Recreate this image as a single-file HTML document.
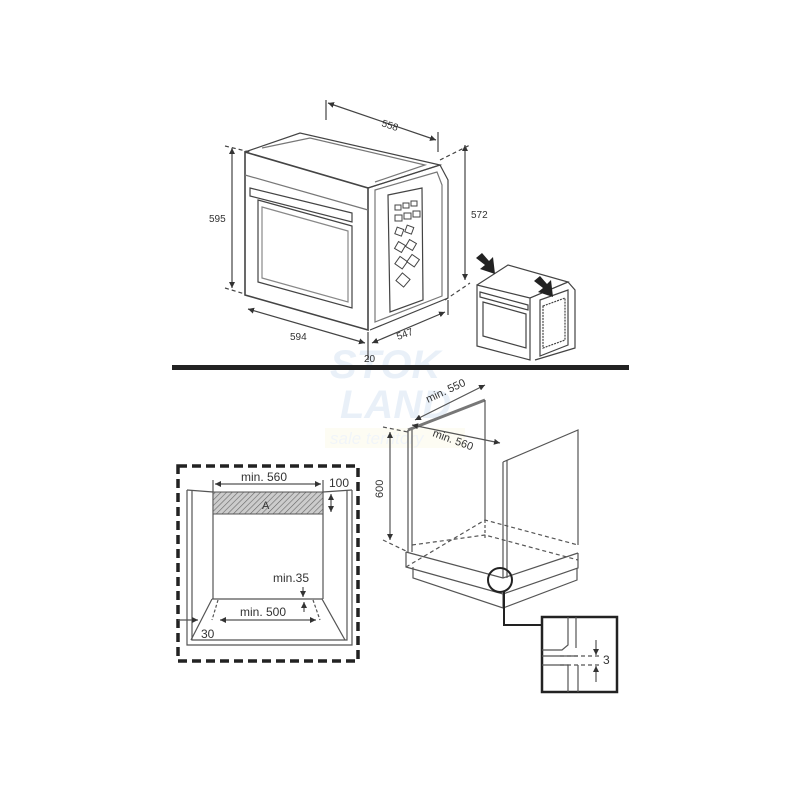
<!DOCTYPE html>
<html><head><meta charset="utf-8"><style>
html,body{margin:0;padding:0;background:#fff;}
svg{display:block}
text{font-family:"Liberation Sans",sans-serif;fill:#333;}
</style></head><body>
<svg width="800" height="800" viewBox="0 0 800 800" xmlns="http://www.w3.org/2000/svg">
<defs>
<pattern id="h" width="4" height="4" patternUnits="userSpaceOnUse" patternTransform="rotate(45)">
<rect width="4" height="4" fill="#ccc"/><line x1="0" y1="0" x2="0" y2="4" stroke="#666" stroke-width="1.2"/></pattern>
<marker id="a" viewBox="0 0 10 10" refX="10" refY="5" markerWidth="5" markerHeight="5" orient="auto-start-reverse"><path d="M0,0L10,5L0,10z" fill="#333"/></marker>
</defs>
<rect width="800" height="800" fill="#fff"/>
<!-- watermark -->
<g opacity="0.25">
<text x="330" y="378" font-size="40" font-weight="bold" font-style="italic" style="fill:#a9c6e6">STOK</text>
<text x="340" y="418" font-size="40" font-weight="bold" font-style="italic" style="fill:#a9c6e6">LAND</text>
<rect x="325" y="428" width="140" height="20" style="fill:#fbf6d0"/>
<text x="330" y="444" font-size="17" font-style="italic" style="fill:#c9d9ea">sale territory</text>
</g>
<g fill="none" stroke="#444" stroke-width="1.2">
<!-- Main oven -->
<path d="M245,152 L368,188 L368,330 L245,295 Z" stroke-width="1.6"/>
<path d="M245,152 L300,133 L440,165 L368,188"/>
<path d="M262,148 L310,138 L425,165 L375,182" stroke="#777"/>
<path d="M368,188 L440,165 L448,180 L448,298 L370,330"/>
<path d="M375,190 L437,172 L442,185 L442,296 L375,322 Z" stroke="#777"/>
<path d="M388,195 L422,188 L423,300 L390,312 Z"/>
<path d="M245,175 L368,210" stroke="#777"/>
<path d="M250,188 L352,213 L352,222 L250,196 Z"/>
<path d="M258,200 L352,226 L352,308 L258,282 Z"/>
<path d="M262,207 L348,231 L348,302 L262,278 Z" stroke="#888"/>
<g stroke-width="1">
<rect x="395" y="205" width="6" height="5"/><rect x="403" y="203" width="6" height="5"/><rect x="411" y="201" width="6" height="5"/>
<rect x="395" y="215" width="7" height="6"/><rect x="404" y="213" width="7" height="6"/><rect x="413" y="211" width="7" height="6"/>
<rect x="396" y="228" width="7" height="7" transform="rotate(20 399 231)"/><rect x="406" y="226" width="7" height="7" transform="rotate(20 409 229)"/>
<rect x="396" y="243" width="8" height="8" transform="rotate(30 400 247)"/><rect x="407" y="241" width="8" height="8" transform="rotate(30 411 245)"/>
<rect x="397" y="258" width="9" height="9" transform="rotate(35 401 262)"/><rect x="409" y="256" width="9" height="9" transform="rotate(35 413 260)"/>
<rect x="398" y="275" width="10" height="10" transform="rotate(40 403 280)"/>
</g>
<!-- dims -->
<line x1="232" y1="148" x2="232" y2="288" marker-start="url(#a)" marker-end="url(#a)"/>
<line x1="225" y1="146" x2="250" y2="152" stroke-dasharray="4 3"/>
<line x1="225" y1="288" x2="245" y2="294" stroke-dasharray="4 3"/>
<line x1="248" y1="309" x2="365" y2="343" marker-start="url(#a)" marker-end="url(#a)"/>
<line x1="328" y1="103" x2="436" y2="140" marker-start="url(#a)" marker-end="url(#a)"/>
<line x1="326" y1="100" x2="326" y2="120"/><line x1="438" y1="132" x2="438" y2="152"/>
<line x1="465" y1="145" x2="465" y2="280" marker-start="url(#a)" marker-end="url(#a)"/>
<line x1="440" y1="160" x2="470" y2="145" stroke-dasharray="4 3"/>
<line x1="445" y1="300" x2="470" y2="283" stroke-dasharray="4 3"/>
<line x1="372" y1="343" x2="445" y2="312" marker-start="url(#a)" marker-end="url(#a)"/>
<line x1="368" y1="332" x2="368" y2="360"/><line x1="448" y1="300" x2="448" y2="315"/>
<!-- small oven -->
<path d="M477,285 L530,298 L530,360 L477,346 Z"/>
<path d="M477,285 L508,265 L568,282 L530,298"/>
<path d="M530,298 L568,282 L575,290 L575,348 L535,360"/>
<path d="M540,300 L568,290 L568,345 L540,356 Z"/>
<path d="M543,306 L565,298 L565,340 L543,348 Z" stroke-dasharray="2 1"/>
<path d="M480,292 L528,305 L528,310 L480,297 Z"/>
<path d="M483,302 L526,314 L526,348 L483,336 Z"/>
</g>
<path d="M476,258 L482,253 L489,261 L493,257 L495,274 L480,269 L485,265 Z" fill="#222"/>
<path d="M534,281 L540,276 L547,284 L551,280 L553,297 L538,292 L543,288 Z" fill="#222"/>
<text x="381" y="126" font-size="10" transform="rotate(18 381 126)">558</text>
<text x="209" y="222" font-size="10">595</text>
<text x="471" y="218" font-size="10">572</text>
<text x="290" y="340" font-size="10">594</text>
<text x="398" y="340" font-size="10" transform="rotate(-20 398 340)">547</text>
<text x="364" y="362" font-size="10">20</text>
<!-- divider -->
<rect x="172" y="365" width="457" height="5" fill="#222"/>
<!-- bottom-left -->
<rect x="178" y="466" width="180" height="195" fill="none" stroke="#222" stroke-width="3.5" stroke-dasharray="9 5"/>
<g fill="none" stroke="#555" stroke-width="1.2">
<path d="M187,490 L187,645 L352,645 L352,490"/>
<path d="M192,490 L192,640 L347,640 L347,490"/>
<line x1="187" y1="490" x2="213" y2="492"/><line x1="323" y1="492" x2="352" y2="490"/>
<line x1="213" y1="480" x2="213" y2="599"/><line x1="323" y1="480" x2="323" y2="599"/>
<path d="M212,599 L322,599 L345,640 M212,599 L191,640"/>
<path d="M218,600 L212,620 M313,600 L320,620" stroke-dasharray="3 2"/>
<line x1="215" y1="484" x2="321" y2="484" marker-start="url(#a)" marker-end="url(#a)"/>
<line x1="331" y1="494" x2="331" y2="512" marker-start="url(#a)" marker-end="url(#a)"/>
<line x1="220" y1="620" x2="316" y2="620" marker-start="url(#a)" marker-end="url(#a)"/>
<line x1="178" y1="620" x2="198" y2="620" marker-end="url(#a)"/>
<line x1="303" y1="587" x2="303" y2="597" marker-end="url(#a)"/>
<line x1="304" y1="612" x2="304" y2="602" marker-end="url(#a)"/>
</g>
<rect x="213" y="492" width="110" height="22" fill="url(#h)" stroke="#555"/>
<text x="262" y="509" font-size="11">A</text>
<text x="241" y="481" font-size="12">min. 560</text>
<text x="329" y="487" font-size="12">100</text>
<text x="273" y="582" font-size="12">min.35</text>
<text x="240" y="616" font-size="12">min. 500</text>
<text x="201" y="638" font-size="12">30</text>
<!-- cabinet -->
<g fill="none" stroke="#555" stroke-width="1.2">
<path d="M408,430 L408,552 M412,428 L412,552"/>
<path d="M408,430 L485,400" stroke="#777" stroke-width="3"/>
<line x1="485" y1="400" x2="485" y2="520"/>
<path d="M503,462 L503,578 M507,460 L507,578"/>
<path d="M503,462 L578,430 L578,545"/>
<path d="M406,552 L503,578 L578,553"/>
<path d="M406,552 L406,567 L503,594 L578,568 L578,553"/>
<path d="M413,567 L413,578 L503,608 L577,580 L577,568"/>
<path d="M503,594 L503,608"/>
<path d="M406,567 L485,520 L578,545" stroke-dasharray="4 3"/>
<path d="M412,545 L485,535 L578,560" stroke-dasharray="4 3"/>
<line x1="485" y1="520" x2="485" y2="540" stroke-dasharray="3 2"/>
<line x1="390" y1="432" x2="390" y2="540" marker-start="url(#a)" marker-end="url(#a)"/>
<line x1="383" y1="427" x2="408" y2="432" stroke-dasharray="4 3"/>
<line x1="383" y1="540" x2="408" y2="552" stroke-dasharray="4 3"/>
<line x1="415" y1="420" x2="485" y2="385" marker-start="url(#a)" marker-end="url(#a)"/>
<line x1="412" y1="425" x2="500" y2="443" marker-start="url(#a)" marker-end="url(#a)"/>
<circle cx="500" cy="580" r="12" stroke="#222" stroke-width="2"/>
<path d="M504,592 L504,625 L542,625" stroke="#222" stroke-width="2"/>
<rect x="542" y="617" width="75" height="75" stroke="#222" stroke-width="2.5"/>
<path d="M568,617 L568,645 L562,650 L542,650 M576,617 L576,648"/>
<path d="M542,656 L578,656 M542,665 L568,665 L568,692 M578,665 L578,692"/>
<path d="M560,656 L600,656 M560,665 L600,665" stroke-dasharray="4 3"/>
<line x1="596" y1="640" x2="596" y2="655" marker-end="url(#a)"/>
<line x1="596" y1="682" x2="596" y2="666" marker-end="url(#a)"/>
</g>
<text x="0" y="0" font-size="11" transform="translate(383,498) rotate(-90)">600</text>
<text x="0" y="0" font-size="11" transform="translate(428,403) rotate(-25)">min. 550</text>
<text x="0" y="0" font-size="11" transform="translate(432,436) rotate(20)">min. 560</text>
<text x="603" y="664" font-size="12">3</text>
</svg>
</body></html>
